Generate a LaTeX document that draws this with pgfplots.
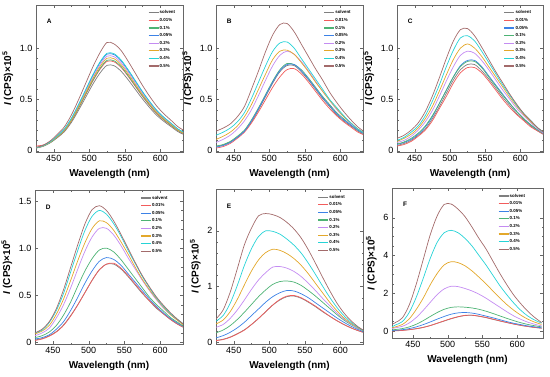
\documentclass[border=0pt]{standalone}
\usepackage{fontspec}
\setmainfont{Liberation Sans}
\usepackage{pgfplots}
\usepackage{pgfplotstable}
\pgfplotsset{compat=1.18}

\definecolor{cS}{HTML}{7F7F7F}
\definecolor{c01}{HTML}{F25C5C}
\definecolor{c05}{HTML}{3C82E6}
\definecolor{c1}{HTML}{4DB374}
\definecolor{c2}{HTML}{C48CF2}
\definecolor{c3}{HTML}{E3A82B}
\definecolor{c4}{HTML}{26D3D6}
\definecolor{c5}{HTML}{A36B6B}

\pgfplotstableread{
x s p01 p05 p1 p2 p3 p4 p5
425 .025 .045 .029 .027 .028 .027 .029 .032
435 .042 .055 .048 .045 .047 .046 .048 .053
445 .076 .085 .086 .080 .084 .082 .086 .095
455 .126 .132 .143 .134 .140 .137 .144 .159
465 .185 .194 .209 .196 .205 .200 .211 .233
475 .277 .290 .314 .294 .307 .300 .317 .350
485 .395 .414 .447 .418 .437 .428 .451 .498
495 .521 .546 .589 .552 .577 .564 .595 .657
505 .647 .678 .732 .685 .716 .701 .739 .816
515 .756 .792 .855 .801 .837 .819 .864 .954
525 .832 .871 .941 .881 .921 .901 .950 1.055
535 .828 .866 .936 .876 .916 .896 .945 1.040
545 .773 .810 .874 .819 .856 .837 .883 .975
555 .689 .722 .779 .730 .763 .746 .787 .869
565 .596 .625 .675 .632 .660 .646 .682 .753
575 .504 .528 .570 .534 .558 .546 .576 .636
585 .420 .440 .475 .445 .465 .455 .480 .530
595 .344 .361 .390 .365 .381 .373 .394 .435
605 .286 .299 .323 .303 .316 .309 .326 .360
615 .235 .246 .266 .249 .260 .255 .269 .297
625 .185 .194 .209 .196 .205 .200 .211 .233
635 .151 .158 .171 .160 .167 .164 .173 .191
}\tabA

\pgfplotstableread{
x s p01 p05 p1 p2 p3 p4 p5
425 .04 .025 .035 .045 .08 .11 .15 .19
435 .055 .04 .05 .06 .11 .14 .18 .22
445 .085 .07 .08 .09 .15 .18 .22 .26
455 .13 .12 .13 .14 .21 .24 .28 .33
465 .19 .18 .19 .20 .29 .33 .37 .43
475 .28 .27 .29 .30 .40 .45 .51 .60
485 .40 .38 .41 .42 .54 .60 .67 .78
495 .53 .50 .54 .55 .69 .75 .83 .97
505 .66 .62 .67 .68 .83 .89 .97 1.13
515 .77 .72 .78 .79 .93 .97 1.05 1.23
525 .83 .79 .84 .85 .97 .98 1.06 1.24
535 .83 .80 .84 .84 .94 .94 1.00 1.16
545 .77 .75 .78 .79 .87 .86 .90 1.04
555 .69 .67 .70 .71 .78 .77 .80 .92
565 .60 .58 .61 .62 .68 .67 .70 .80
575 .51 .49 .52 .53 .58 .58 .60 .69
585 .43 .41 .44 .45 .49 .49 .50 .57
595 .35 .34 .36 .37 .40 .41 .42 .47
605 .29 .28 .30 .31 .33 .33 .34 .38
615 .24 .23 .25 .25 .26 .27 .27 .30
625 .19 .18 .20 .20 .21 .21 .21 .23
635 .15 .15 .16 .16 .17 .17 .17 .18
}\tabB

\pgfplotstableread{
x s p01 p05 p1 p2 p3 p4 p5
425 .05 .045 .06 .065 .08 .09 .10 .12
435 .07 .06 .08 .085 .10 .12 .13 .15
445 .10 .09 .11 .12 .14 .16 .18 .20
455 .15 .14 .16 .17 .20 .22 .24 .27
465 .21 .20 .23 .24 .28 .31 .34 .38
475 .31 .29 .33 .34 .39 .43 .48 .53
485 .43 .41 .46 .46 .53 .58 .64 .71
495 .56 .53 .59 .59 .68 .74 .82 .90
505 .69 .66 .72 .72 .82 .89 .98 1.07
515 .79 .76 .83 .82 .93 1.00 1.10 1.18
525 .84 .81 .88 .87 .97 1.04 1.12 1.19
535 .84 .81 .88 .87 .95 1.00 1.07 1.12
545 .78 .76 .82 .81 .88 .92 .97 1.01
555 .70 .68 .73 .72 .79 .82 .86 .89
565 .61 .59 .64 .63 .69 .72 .75 .77
575 .52 .50 .55 .54 .59 .62 .64 .66
585 .44 .42 .46 .46 .50 .52 .54 .55
595 .36 .35 .38 .38 .41 .43 .44 .45
605 .30 .29 .31 .31 .34 .35 .36 .36
615 .24 .23 .25 .25 .27 .28 .29 .29
625 .19 .19 .20 .20 .21 .22 .22 .22
635 .15 .15 .16 .16 .16 .17 .17 .17
}\tabC

\pgfplotstableread{
x s p01 p05 p1 p2 p3 p4 p5
425 .025 .02 .035 .05 .07 .09 .10 .10
435 .04 .035 .05 .07 .10 .12 .13 .14
445 .07 .065 .08 .11 .15 .18 .21 .22
455 .115 .11 .14 .18 .26 .30 .34 .36
465 .185 .18 .22 .29 .40 .46 .52 .56
475 .285 .28 .34 .43 .58 .66 .75 .80
485 .40 .40 .48 .60 .78 .87 .98 1.04
495 .53 .53 .63 .76 .97 1.06 1.19 1.26
505 .66 .66 .76 .89 1.12 1.21 1.34 1.41
515 .77 .77 .86 .98 1.21 1.29 1.40 1.45
525 .83 .83 .90 1.00 1.21 1.27 1.36 1.40
535 .83 .84 .88 .96 1.14 1.19 1.26 1.29
545 .78 .79 .82 .88 1.03 1.07 1.13 1.15
555 .70 .71 .73 .78 .90 .94 .98 1.00
565 .61 .62 .64 .68 .78 .80 .84 .85
575 .52 .53 .55 .58 .66 .67 .70 .71
585 .44 .44 .46 .48 .55 .56 .58 .59
595 .36 .37 .38 .40 .45 .46 .47 .48
605 .30 .30 .31 .33 .36 .37 .38 .39
615 .24 .24 .25 .26 .29 .29 .30 .31
625 .19 .19 .20 .21 .23 .23 .24 .24
635 .15 .15 .16 .16 .17 .17 .18 .18
}\tabD

\pgfplotstableread{
x s p01 p05 p1 p2 p3 p4 p5
425 .035 .03 .08 .17 .27 .33 .38 .42
435 .055 .05 .12 .22 .32 .40 .48 .58
445 .095 .09 .18 .30 .43 .55 .70 .90
455 .155 .15 .26 .41 .58 .77 1.02 1.32
465 .225 .22 .36 .54 .76 1.03 1.38 1.75
475 .32 .32 .48 .68 .95 1.28 1.68 2.05
485 .43 .43 .60 .82 1.12 1.48 1.90 2.27
495 .55 .55 .72 .94 1.25 1.61 2.00 2.31
505 .67 .67 .82 1.04 1.35 1.67 1.99 2.29
515 .76 .77 .89 1.09 1.36 1.65 1.94 2.24
525 .82 .83 .93 1.10 1.33 1.59 1.85 2.15
535 .83 .84 .92 1.08 1.27 1.50 1.74 2.03
545 .79 .80 .87 1.02 1.18 1.38 1.60 1.87
555 .72 .73 .80 .93 1.06 1.23 1.42 1.66
565 .64 .65 .71 .83 .93 1.06 1.22 1.42
575 .55 .56 .62 .72 .79 .89 1.01 1.17
585 .47 .47 .53 .61 .66 .72 .81 .93
595 .39 .39 .44 .50 .53 .57 .63 .71
605 .32 .32 .36 .40 .42 .44 .48 .53
615 .26 .26 .29 .32 .33 .34 .36 .39
625 .21 .21 .23 .25 .25 .26 .27 .28
635 .17 .17 .18 .19 .19 .19 .19 .20
}\tabE

\pgfplotstableread{
x s p01 p05 p1 p2 p3 p4 p5
420 .015 .005 .03 .06 .13 .17 .22 .35
425 .02 .01 .04 .08 .17 .22 .32 .45
435 .04 .03 .07 .13 .25 .35 .50 .70
445 .075 .07 .13 .22 .43 .65 1.00 1.40
455 .125 .12 .22 .36 .72 1.15 1.80 2.50
465 .195 .19 .34 .55 1.10 1.75 2.80 3.80
475 .29 .29 .48 .77 1.52 2.45 3.85 5.10
485 .41 .41 .63 .98 1.93 3.05 4.70 6.10
495 .53 .54 .77 1.15 2.23 3.50 5.20 6.70
505 .65 .66 .89 1.25 2.37 3.67 5.33 6.72
515 .75 .76 .96 1.28 2.35 3.62 5.20 6.45
525 .82 .83 .98 1.26 2.25 3.45 4.90 6.05
535 .83 .84 .95 1.22 2.12 3.18 4.50 5.50
545 .78 .79 .88 1.15 1.95 2.85 4.00 4.90
555 .71 .72 .79 1.05 1.74 2.50 3.50 4.35
565 .62 .63 .70 .93 1.50 2.12 2.95 3.70
575 .53 .54 .60 .80 1.26 1.75 2.40 3.05
585 .45 .45 .50 .67 1.02 1.40 1.92 2.45
595 .37 .37 .41 .55 .80 1.10 1.48 1.90
605 .30 .30 .34 .44 .62 .84 1.10 1.45
615 .24 .24 .27 .35 .47 .63 .80 1.05
625 .19 .19 .22 .28 .36 .47 .58 .72
635 .15 .15 .17 .22 .27 .35 .42 .45
}\tabF

\pgfplotsset{
  legend image code/.code={\draw[#1,line width=1.2pt] (0pt,0pt) -- (10pt,0pt);},
}
\pgfplotsset{
  stS/.style={draw=cS,line width=0.7pt,smooth},
  st01/.style={draw=c01,line width=0.7pt,smooth},
  st05/.style={draw=c05,line width=0.7pt,smooth},
  st1/.style={draw=c1,line width=0.7pt,smooth},
  st2/.style={draw=c2,line width=0.7pt,smooth},
  st3/.style={draw=c3,line width=0.7pt,smooth},
  st4/.style={draw=c4,line width=0.7pt,smooth},
  st5/.style={draw=c5,line width=0.7pt,smooth},
  panel/.style={
    scale only axis, anchor=north west,
    xmin=425, xmax=632,
    xtick={450,500,550,600},
    minor x tick num=1,
    tick align=inside,
    major tick length=2.8pt, minor tick length=1.5pt,
    axis line style={black!60}, tick style={black!60},
    /pgf/number format/assume math mode=true,
    tick label style={font=\fontsize{9}{9}\selectfont},
    xlabel={\bfseries Wavelength (nm)},
    ylabel={\bfseries\itshape I\upshape\ (CPS)×10\textsuperscript{5}},
    label style={font=\fontsize{10}{10}\selectfont},
    legend cell align=left,
    legend style={draw=none, fill=none, anchor=north west,
      font=\fontsize{4.4}{4.4}\selectfont\bfseries,
      row sep=2.6pt, inner sep=0pt,
      nodes={inner sep=0.6pt, text height=3pt, text depth=0.8pt}},
  },
}
\newcommand\pl[2]{\addplot[st#2] table[x=x,y=p#2]{#1};}
\newcommand\plS[1]{\addplot[stS] table[x=x,y=s]{#1};}
\newcommand\orderAB[1]{%
  \plS{#1}\addlegendentry{solvent}
  \pl{#1}{01}\addlegendentry{0.01\%}
  \pl{#1}{1}\addlegendentry{0.1\%}
  \pl{#1}{05}\addlegendentry{0.05\%}
  \pl{#1}{2}\addlegendentry{0.2\%}
  \pl{#1}{3}\addlegendentry{0.3\%}
  \pl{#1}{4}\addlegendentry{0.4\%}
  \pl{#1}{5}\addlegendentry{0.5\%}}
\newcommand\orderC[1]{%
  \plS{#1}\addlegendentry{solvent}
  \pl{#1}{01}\addlegendentry{0.01\%}
  \pl{#1}{05}\addlegendentry{0.05\%}
  \pl{#1}{1}\addlegendentry{0.1\%}
  \pl{#1}{2}\addlegendentry{0.2\%}
  \pl{#1}{3}\addlegendentry{0.3\%}
  \pl{#1}{4}\addlegendentry{0.4\%}
  \pl{#1}{5}\addlegendentry{0.5\%}}
\newcommand\letter[1]{\node[font=\fontsize{6.5}{6.5}\selectfont\bfseries, anchor=west] at (rel axis cs:0.05,0.89) {#1};}

\begin{document}
\begin{tikzpicture}
\useasboundingbox (0,0) rectangle (550pt,-376pt);

% A
\begin{axis}[panel, at={(36pt,-5pt)}, width=147pt, height=147pt,
  ymin=-0.013, ymax=1.42, ytick={0,0.5,1}, yticklabels={0,0.5,1.0}, minor y tick num=4,
  legend style={at={(0.76,0.965)}}]
\orderAB{\tabA}
\letter{A}
\end{axis}

% B
\begin{axis}[panel, at={(216pt,-5pt)}, width=147pt, height=147pt,
  ymin=-0.013, ymax=1.42, ytick={0,0.5,1}, yticklabels={0,0.5,1.0}, minor y tick num=4,
  legend style={at={(0.73,0.965)}}]
\orderAB{\tabB}
\letter{B}
\end{axis}

% C
\begin{axis}[panel, at={(397pt,-5pt)}, width=146pt, height=147pt,
  ymin=-0.013, ymax=1.42, ytick={0,0.5,1}, yticklabels={0,0.5,1.0}, minor y tick num=4,
  legend style={at={(0.73,0.965)}}]
\orderC{\tabC}
\letter{C}
\end{axis}

% D
\begin{axis}[panel, at={(35pt,-190pt)}, width=148pt, height=154pt,
  ymin=-0.018, ymax=1.617, ytick={0,0.5,1,1.5}, yticklabels={0,0.5,1.0,1.5}, minor y tick num=4,
  legend style={at={(0.71,0.965)}}]
\orderC{\tabD}
\letter{D}
\end{axis}

% E
\begin{axis}[panel, at={(216pt,-189pt)}, width=147pt, height=155pt,
  ymin=-0.03, ymax=2.75, ytick={0,1,2}, minor y tick num=4,
  legend style={at={(0.69,0.965)}}]
\orderC{\tabE}
\letter{E}
\end{axis}

% F
\begin{axis}[panel, at={(392pt,-188pt)}, width=151pt, height=150pt,
  xmin=420, xmax=637,
  ymin=-0.37, ymax=7.57, ytick={0,2,4,6}, minor y tick num=3,
  legend style={at={(0.70,0.965)}}]
\orderC{\tabF}
\letter{F}
\end{axis}
\end{tikzpicture}
\end{document}
